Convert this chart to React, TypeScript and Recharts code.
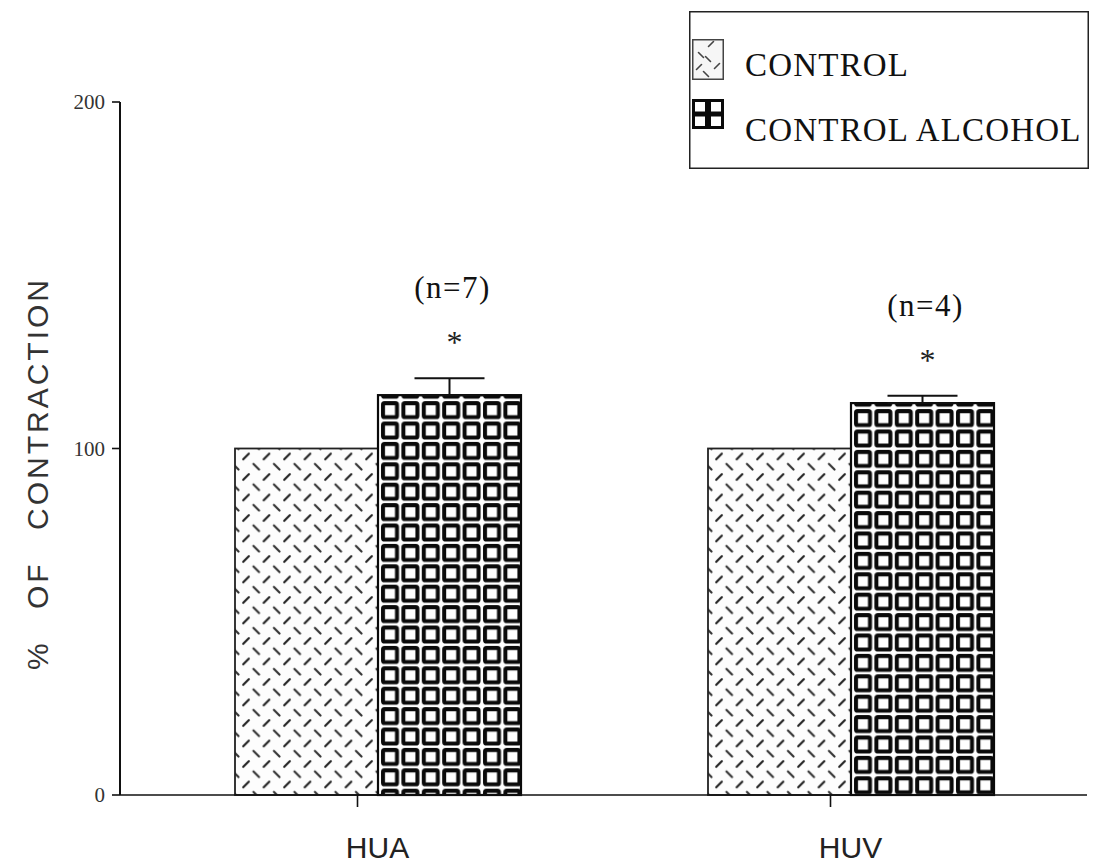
import React from 'react';
import { BarChart, Bar, XAxis, YAxis, ErrorBar, Legend, LabelList } from 'recharts';

const categories = ['HUA', 'HUV'];
const seriesNames = ['CONTROL', 'CONTROL ALCOHOL'];
const controlValues = [100, 100];
const alcoholValues = [115.4, 113.1];
const alcoholErrors = [4.9, 2.1];
const sampleSizes = ['(n=7)', '(n=4)'];
const significance = ['*', '*'];
const yTicks = [0, 100, 200];
const yLabel = '% OF CONTRACTION';

const data = categories.map((c, i) => ({
  name: c,
  control: controlValues[i],
  alcohol: alcoholValues[i],
  alcoholErr: [0, alcoholErrors[i]],
}));

const SERIF = '"Liberation Serif", "DejaVu Serif", serif';
const SANS = '"Liberation Sans", Arial, sans-serif';

const ControlShape = (props: any) => {
  const { x, y, width, height, index } = props;
  const id = `ctl-pat-${index}`;
  const d = 2.8;
  return (
    <g>
      <defs>
        <pattern id={id} patternUnits="userSpaceOnUse" x={x + 6} y={y + 3} width={20.5} height={20.5}>
          <line x1={5 - d} y1={5 + d} x2={5 + d} y2={5 - d} stroke="#222" strokeWidth={2.2} strokeLinecap="round" />
          <line x1={15.25 - d} y1={15.25 - d} x2={15.25 + d} y2={15.25 + d} stroke="#333" strokeWidth={2.2} strokeLinecap="round" />
        </pattern>
      </defs>
      <rect x={x} y={y} width={width} height={height} fill="#fdfdfd" />
      <rect x={x} y={y} width={width} height={height} fill={`url(#${id})`} stroke="#222" strokeWidth={1.8} />
    </g>
  );
};

const AlcoholShape = (props: any) => {
  const { x, y, width, height, index } = props;
  const id = `alc-pat-${index}`;
  return (
    <g>
      <defs>
        <pattern id={id} patternUnits="userSpaceOnUse" x={x + 2} y={y + 5} width={20.4} height={20.4}>
          <rect x={0} y={0} width={20.4} height={20.4} fill="#fff" />
          <rect x={3} y={3} width={14} height={14} rx={1.5} fill="#fff" stroke="#0a0a0a" strokeWidth={4} />
        </pattern>
      </defs>
      <rect x={x} y={y} width={width} height={height} fill={`url(#${id})`} stroke="#0a0a0a" strokeWidth={2.2} />
    </g>
  );
};

const AnnotationLabel = (props: any) => {
  const { x, y, width, height, value, index } = props;
  if (value == null || !height) return null;
  const pxPerUnit = height / value;
  const errTop = y - alcoholErrors[index] * pxPerUnit;
  const cx = x + width / 2 + 3;
  return (
    <g>
      <text x={cx} y={errTop - 80} textAnchor="middle" fontFamily={SERIF} fontSize={31} letterSpacing={1.5} fill="#111">
        {sampleSizes[index]}
      </text>
      <text x={cx + 2} y={errTop - 25} textAnchor="middle" fontFamily={SERIF} fontSize={32} fill="#222">
        {significance[index]}
      </text>
    </g>
  );
};

const XTick = (props: any) => {
  const { x, y, payload } = props;
  return (
    <g>
      <line x1={x - 20} y1={y} x2={x - 20} y2={y + 12} stroke="#111" strokeWidth={1.6} />
      <text x={x} y={y + 63} textAnchor="middle" fontFamily={SANS} fontSize={30} fill="#222">
        {payload.value}
      </text>
    </g>
  );
};

const YTick = (props: any) => {
  const { x, y, payload } = props;
  return (
    <text x={x} y={y} dy={7} textAnchor="end" fontFamily={SERIF} fontSize={21} fill="#333">
      {payload.value}
    </text>
  );
};

const YLabelContent = (props: any) => {
  const { viewBox } = props;
  const vx = viewBox?.x ?? 0;
  const vy = viewBox?.y ?? 0;
  const vh = viewBox?.height ?? 0;
  const cx = vx + 37;
  const cy = vy + vh / 2 + 25;
  return (
    <text
      x={cx}
      y={cy}
      transform={`rotate(-90 ${cx} ${cy})`}
      textAnchor="middle"
      dominantBaseline="central"
      fontFamily={SANS}
      fontSize={30}
      letterSpacing={3}
      wordSpacing={20}
      fill="#333"
    >
      {yLabel}
    </text>
  );
};

const LegendContent = (props: any) => {
  const payload = props.payload || [];
  const names = payload.length ? payload.map((p: any) => p.value) : seriesNames;
  return (
    <svg width={400} height={158} style={{ display: 'block' }}>
      <rect x={0.75} y={0.75} width={398.5} height={156.5} fill="#fff" stroke="#222" strokeWidth={1.5} />
      <g transform="translate(3,28)">
        <rect x={0.75} y={0.75} width={30.5} height={39.5} fill="#f6f6f6" stroke="#444" strokeWidth={1.5} />
        {[[19, 5, 1], [9, 16, -1], [16, 20, -1], [25, 27, 1], [7, 28, 1], [14, 35, -1]].map(([cx, cy, s], i) => (
          <line key={i} x1={cx - 2.5} y1={cy + 2.5 * s} x2={cx + 2.5} y2={cy - 2.5 * s} stroke="#444" strokeWidth={1.6} strokeLinecap="round" />
        ))}
      </g>
      <text x={56} y={65} fontFamily={SERIF} fontSize={33} letterSpacing={1.2} fill="#111">{names[0]}</text>
      <g transform="translate(3,88)">
        <rect x={1.5} y={1.5} width={13} height={12.5} fill="#fff" stroke="#0a0a0a" strokeWidth={3} />
        <rect x={17.5} y={1.5} width={13} height={12.5} fill="#fff" stroke="#0a0a0a" strokeWidth={3} />
        <rect x={1.5} y={16} width={13} height={12.5} fill="#fff" stroke="#0a0a0a" strokeWidth={3} />
        <rect x={17.5} y={16} width={13} height={12.5} fill="#fff" stroke="#0a0a0a" strokeWidth={3} />
      </g>
      <text x={56} y={130} fontFamily={SERIF} fontSize={33} letterSpacing={1.2} fill="#111">{names[1]}</text>
    </svg>
  );
};

export default function App() {
  return (
    <div style={{ position: 'absolute', left: 0, top: 0, width: 1098, height: 866, background: '#fff' }}>
      <BarChart
        width={1098}
        height={866}
        data={data}
        margin={{ top: 102, right: 11, bottom: 11, left: 0 }}
        barGap={0}
        barSize={143}
      >
        <XAxis
          dataKey="name"
          height={60}
          padding={{ left: 21, right: 0 }}
          axisLine={{ stroke: '#111', strokeWidth: 1.6 }}
          tickLine={false}
          tickSize={0}
          tickMargin={0}
          tick={<XTick />}
          interval={0}
        />
        <YAxis
          width={120}
          domain={[0, 200]}
          ticks={yTicks}
          interval={0}
          axisLine={{ stroke: '#111', strokeWidth: 2 }}
          tickLine={{ stroke: '#111', strokeWidth: 1.6 }}
          tickSize={8}
          tickMargin={7}
          tick={<YTick />}
          label={{ content: <YLabelContent /> } as any}
        />
        <Legend
          layout="horizontal"
          verticalAlign="middle"
          align="center"
          content={<LegendContent />}
          wrapperStyle={{ left: 689, top: 11, width: 400, height: 158 }}
        />
        <Bar dataKey="control" name={seriesNames[0]} fill="#fff" shape={<ControlShape />} isAnimationActive={false} />
        <Bar dataKey="alcohol" name={seriesNames[1]} fill="#000" shape={<AlcoholShape />} isAnimationActive={false}>
          <ErrorBar dataKey="alcoholErr" width={35} stroke="#111" strokeWidth={2} direction="y" />
          <LabelList dataKey="alcohol" content={<AnnotationLabel />} />
        </Bar>
      </BarChart>
    </div>
  );
}
